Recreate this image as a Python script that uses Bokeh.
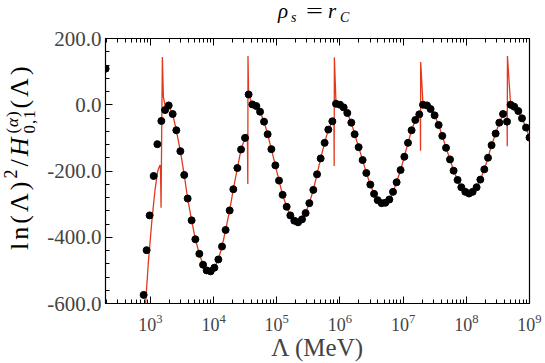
from bokeh.plotting import figure
from bokeh.layouts import column, row
from bokeh.models import (LogAxis, Range1d, SingleIntervalTicker, FixedTicker,
                          PrintfTickFormatter, CustomJSTickFormatter, Div)
from bokeh.embed import file_html
from bokeh.resources import INLINE

# ---------------- data ----------------
dots_lambda = [196, 783, 873, 975, 1127, 1291, 1493, 1710, 1950, 2254,
               2576, 2985, 3436, 3890, 4498, 5152, 5957, 6823, 7780, 8995,
               10304, 11912, 13614, 15524, 17989, 20559, 23823, 27227, 31477, 35892,
               41115, 47534, 54450, 62951, 71779, 82224, 95060, 108643, 123880, 143549,
               164059, 189671, 217270, 251189, 286418, 328095, 379315, 434510, 495450, 572796,
               654636, 758578, 866962, 1.005e6, 1.146e6, 1.309e6, 1.514e6, 1.710e6, 1.977e6, 2.286e6,
               2.618e6, 3.027e6, 3.467e6, 3.954e6, 4.571e6, 5.224e6, 6.053e6, 6.918e6, 7.889e6, 9.120e6,
               1.045e7, 1.194e7, 1.361e7, 1.560e7, 1.803e7, 2.065e7, 2.388e7, 2.723e7, 3.148e7, 3.648e7,
               4.169e7, 4.775e7, 5.521e7, 6.295e7, 7.278e7, 8.337e7, 9.638e7, 1.104e8, 1.259e8, 1.456e8,
               1.667e8, 1.928e8, 2.203e8, 2.512e8, 2.911e8, 3.327e8, 3.811e8, 4.406e8, 5.023e8, 5.741e8,
               6.653e8, 7.603e8, 8.810e8, 1.0e9]
dots_value = [109, -574, -439, -334, -215, -119, -49, -16, -2, -28,
              -77, -140, -212, -283, -349, -406, -450, -483, -500, -503,
              -492, -467, -428, -378, -319, -255, -191, -135, -100, 31,
              1, -4, -21, -51, -89, -134, -183, -229, -272, -308,
              -334, -350, -355, -346, -327, -297, -257, -210, -162, -115,
              -75, -50, 3, 0, -8, -25, -54, -89, -128, -167,
              -206, -241, -269, -288, -297, -296, -286, -263, -234, -197,
              -157, -115, -77, -46, -29, 0, -2, -13, -32, -61,
              -94, -130, -165, -199, -227, -249, -263, -268, -263, -249,
              -226, -195, -160, -122, -87, -54, -28, -51, 0, -6,
              -19, -41, -69, -99]

# red curve: its first rising branch (before the first pole)
curve_lead_lambda = [817, 843, 929, 1050, 1186, 1306, 1403, 1445, 1476, 1549, 1607, 1710, 1950]
curve_lead_value = [-640, -596, -476, -356, -256, -201, -184, -183, -311, 144, 24, -3, -5]
# red curve: the narrow spikes at the poles
spike_lambda = [34277, 34834, 35075,
                803526, 810961, 816582,
                1.871e7, 1.884e7, 1.897e7,
                4.416e8, 4.446e8, 4.477e8]
spike_value = [-88, -239, 147,
               -40, -185, 143,
               -20, -139, 129,
               -19, -125, 147]

x_major = [1e3, 1e4, 1e5, 1e6, 1e7, 1e8, 1e9]

# curve = lead branch + smooth part through the dots + spikes
pairs = list(zip(curve_lead_lambda, curve_lead_value))
pairs += [(l, v) for l, v in zip(dots_lambda, dots_value) if l > 2000 and l != 4.406e8]
pairs += list(zip(spike_lambda, spike_value))
pairs.sort()
curve_lambda = [a for a, b in pairs]
curve_value = [b for a, b in pairs]

FONT = "Liberation Serif"
TITLE_H = 26
YLAB_W = 40
W, H = 545, 363

p = figure(width=W - YLAB_W, height=H - TITLE_H, x_axis_type="log",
           x_range=Range1d(195, 1e9), y_range=Range1d(-600, 200),
           output_backend="svg", toolbar_location=None,
           min_border_left=65, min_border_right=16, min_border_top=12, min_border_bottom=60)
p.grid.visible = False
p.outline_line_color = "black"
p.outline_line_width = 1.2
p.background_fill_color = "white"
p.border_fill_color = "white"

minor = [m * 10 ** k for k in range(2, 9) for m in range(2, 10)]
xt = FixedTicker(ticks=x_major, minor_ticks=minor)

xa = p.xaxis[0]
xa.ticker = xt
xa.axis_label = "Λ (MeV)"
xa.axis_label_text_font = FONT
xa.axis_label_text_font_size = "25px"
xa.axis_label_text_font_style = "normal"
xa.axis_label_standoff = 0
xa.major_label_text_font = FONT
xa.major_label_text_font_size = "18px"
xa.major_label_standoff = 10
xa.major_tick_in = 7
xa.major_tick_out = 0
xa.minor_tick_in = 4
xa.minor_tick_out = 0

top = LogAxis(ticker=xt, formatter=CustomJSTickFormatter(code="return ''"),
              major_tick_in=7, major_tick_out=0, minor_tick_in=4, minor_tick_out=0,
              major_label_standoff=0, major_label_text_font_size="0px")
p.add_layout(top, "above")

ya = p.yaxis[0]
ya.ticker = SingleIntervalTicker(interval=200, num_minor_ticks=5)
ya.formatter = PrintfTickFormatter(format="%.1f")
ya.major_label_text_font = FONT
ya.major_label_text_font_size = "21px"
ya.major_label_standoff = 4
ya.major_tick_in = 7
ya.major_tick_out = 0
ya.minor_tick_in = 4
ya.minor_tick_out = 0

p.line(curve_lambda, curve_value, line_color="#e2391d", line_width=1.3)
p.scatter(dots_lambda, dots_value, size=7, color="black")


# ---- title  rho_s = r_C  (HTML text, each piece placed) ----
def piece(txt, left, top, size, italic=True, extra=""):
    st = "italic" if italic else "normal"
    return (f'<span style="position:absolute; left:{left}px; top:{top}px; font-size:{size}px;'
            f' line-height:1; font-style:{st}; white-space:nowrap; {extra}">{txt}</span>')


title_html = (
    f'<div style="position:relative; width:{W}px; height:{TITLE_H}px; font-family:\'{FONT}\'; color:black;">'
    + piece("ρ", 278, 1.4, 21)
    + piece("s", 291, 10.8, 14)
    + piece("=", 306, 1.4, 21, italic=False,
            extra="display:inline-block; transform:scaleX(1.43); transform-origin:0 0;")
    + piece("r", 328, 1.4, 21)
    + piece("C", 340, 10.8, 14)
    + '</div>'
)
title_div = Div(text=title_html, width=W, height=TITLE_H, margin=0)

# ---- y label  ln(Λ)^2 / H^{(α)}_{0,1}(Λ)  (HTML text, rotated) ----
F = 26
LH = H - TITLE_H
stack = (
    '<span style="display:inline-block; position:relative; width:26px; height:10px;">'
    '<span style="position:absolute; left:1px; bottom:7px; font-size:17px; line-height:17px; letter-spacing:1px;">(<i>α</i>)</span>'
    '<span style="position:absolute; left:1px; top:3px; font-size:17px; line-height:17px; letter-spacing:1px;">0,1</span>'
    '</span>'
)
ylab_html = (
    f'<div style="width:{LH}px; font-family:\'{FONT}\'; font-size:{F}px; line-height:{F}px; letter-spacing:3px;'
    f' white-space:nowrap; transform-origin:0 0; transform:translate(7px,{LH}px) rotate(-90deg);'
    f' padding-left:{LH - (250 - TITLE_H)}px; box-sizing:border-box; color:black;">'
    f'ln(Λ)<span style="position:relative; top:-11px; font-size:18px;">2</span>/<i>H</i>'
    f'{stack}(Λ)</div>'
)
ylab_div = Div(text=ylab_html, width=YLAB_W, height=LH, margin=0)

layout = column(title_div, row(ylab_div, p, spacing=0), spacing=0)

open("out.html", "w").write(file_html(layout, INLINE))
